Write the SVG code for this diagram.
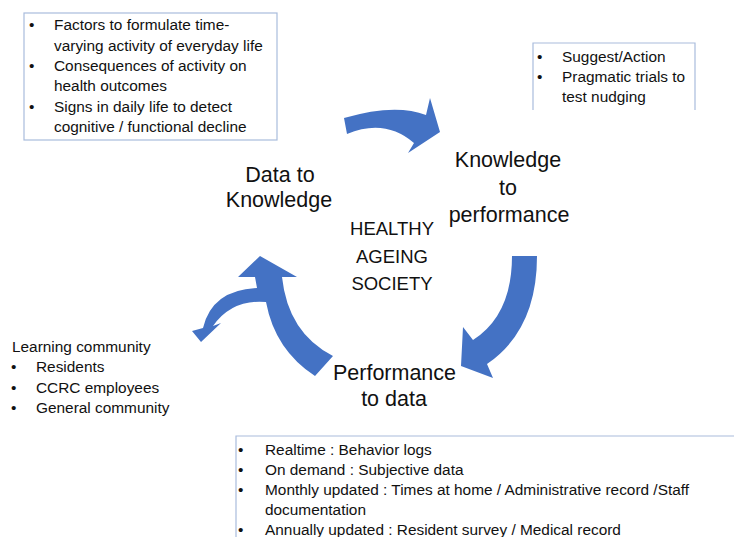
<svg xmlns="http://www.w3.org/2000/svg" width="734" height="537" viewBox="0 0 734 537">
  <style>
    .box { fill: none; stroke: #a9bcdc; stroke-width: 1.2; }
    .small { font-family: "Liberation Sans", Arial, sans-serif; font-size: 15.4px; fill: #111; }
    .big { font-family: "Liberation Sans", Arial, sans-serif; font-size: 21.5px; fill: #111; text-anchor: middle; }
    .hub { font-family: "Liberation Sans", Arial, sans-serif; font-size: 18.5px; fill: #111; text-anchor: middle; }
    .arrow { fill: #4472c4; stroke: none; }
  </style>
  <rect width="734" height="537" fill="#ffffff"/>

  <!-- cycle arrows -->
  <g id="connectors">
    <!-- data to knowledge -> knowledge to performance -->
    <path class="arrow" d="M344,118 Q395,103 426,115 L430,98 L440,132 L408,153 L414,143 Q385,118 347,134 Z"/>
    <!-- knowledge to performance -> performance to data -->
    <path class="arrow" d="M512,256 L537,256 Q537,330 487,364 L493,378 L461,366 L463,327 L473,340 Q512,315 512,256 Z"/>
    <!-- performance to data -> data to knowledge, with branch to learning community -->
    <path class="arrow" d="M260,256 L297,277 L282,277 Q288,333 333,356 L315,376 Q275,350 266,302 Q232,299 213,326 L221,323 L201,342 L192,331 L203,328 Q212,290 257,288 L255,277 L238,277 Z"/>
  </g>

  <g id="knowledge-notes">
    <rect class="box" x="24" y="13" width="253" height="127"/>
    <g class="small">
      <text x="29" y="30">•</text><text x="54" y="30">Factors to formulate time-</text>
      <text x="54" y="50.5">varying activity of everyday life</text>
      <text x="29" y="71">•</text><text x="54" y="71">Consequences of activity on</text>
      <text x="54" y="91">health outcomes</text>
      <text x="29" y="111.5">•</text><text x="54" y="111.5">Signs in daily life to detect</text>
      <text x="54" y="132">cognitive / functional decline</text>
    </g>
  </g>

  <g id="performance-notes">
    <path class="box" d="M533,110 V43 H695 V110"/>
    <g class="small">
      <text x="537" y="62">•</text><text x="562" y="62">Suggest/Action</text>
      <text x="537" y="82">•</text><text x="562" y="82">Pragmatic trials to</text>
      <text x="562" y="102">test nudging</text>
    </g>
  </g>

  <g id="data-notes">
    <path class="box" d="M236,537 V436 H734"/>
    <g class="small">
      <text x="238" y="455">•</text><text x="265" y="455">Realtime : Behavior logs</text>
      <text x="238" y="474.5">•</text><text x="265" y="474.5">On demand : Subjective data</text>
      <text x="238" y="495">•</text><text x="265" y="495">Monthly updated : Times at home / Administrative record /Staff</text>
      <text x="265" y="515">documentation</text>
      <text x="238" y="535">•</text><text x="265" y="535">Annually updated : Resident survey / Medical record</text>
    </g>
  </g>

  <g id="learning-community">
    <g class="small">
      <text x="12" y="352">Learning community</text>
      <text x="11" y="372">•</text><text x="36" y="372">Residents</text>
      <text x="11" y="392.5">•</text><text x="36" y="392.5">CCRC employees</text>
      <text x="11" y="413">•</text><text x="36" y="413">General community</text>
    </g>
  </g>

  <g id="data-to-knowledge">
    <text class="big" x="280" y="182">Data to</text>
    <text class="big" x="279" y="207">Knowledge</text>
  </g>

  <g id="knowledge-to-performance">
    <text class="big" x="508" y="167">Knowledge</text>
    <text class="big" x="508" y="195">to</text>
    <text class="big" x="509" y="222">performance</text>
  </g>

  <g id="performance-to-data">
    <text class="big" x="394.5" y="380">Performance</text>
    <text class="big" x="394" y="406">to data</text>
  </g>

  <g id="healthy-ageing-society">
    <text class="hub" x="392" y="235">HEALTHY</text>
    <text class="hub" x="392" y="263">AGEING</text>
    <text class="hub" x="392" y="290">SOCIETY</text>
  </g>
</svg>
